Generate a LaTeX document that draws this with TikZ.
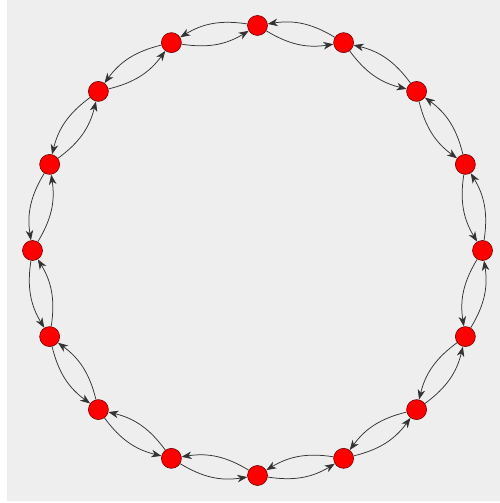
\documentclass[tikz,border=0pt]{standalone}
\usetikzlibrary{arrows.meta}
\definecolor{bggray}{RGB}{238,238,238}
\tikzset{
  vertex/.style={circle, fill=red, draw=red!45!black, line width=0.6pt, minimum size=20pt, inner sep=0pt},
  arc/.style={-{Stealth[length=10pt,width=7.5pt,inset=3pt]}, line width=0.75pt, draw=black!80, bend right=20},
}
\begin{document}
\begin{tikzpicture}[x=1pt,y=1pt]
  \fill[white] (0,0) rectangle (500,503);
  \fill[bggray] (7,2) rectangle (500,503);
  \useasboundingbox (0,0) rectangle (500,503);

  % ring of vertices
  \foreach \i in {0,...,15}
    \node[vertex] (v\i) at ({257.5+225*cos(90-22.5*\i)},{252.5+225*sin(90-22.5*\i)}) {};

  % arcs both ways between neighbours
  \foreach \i in {0,...,15} {
    \pgfmathtruncatemacro{\j}{mod(\i+1,16)}
    \draw[arc] (v\i) to (v\j);
    \draw[arc] (v\j) to (v\i);
  }
\end{tikzpicture}
\end{document}
